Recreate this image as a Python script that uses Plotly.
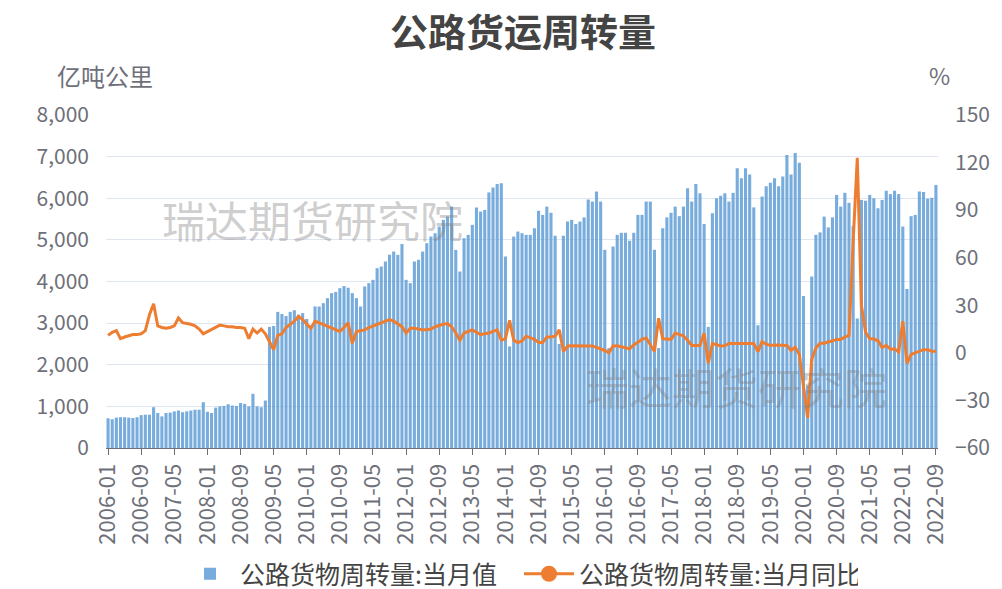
import plotly.graph_objects as go

# ---------------- data ----------------
months = [f"{y}-{m:02d}" for y in range(2006, 2023) for m in range(1, 13)][:201]

tick_labels = ["2006-01", "2006-09", "2007-05", "2008-01", "2008-09", "2009-05",
               "2010-01", "2010-09", "2011-05", "2012-01", "2012-09", "2013-05",
               "2014-01", "2014-09", "2015-05", "2016-01", "2016-09", "2017-05",
               "2018-01", "2018-09", "2019-05", "2020-01", "2020-09", "2021-05",
               "2022-01", "2022-09"]

# 公路货物周转量:当月值 (亿吨公里)
bar_2006 = [714, 690, 730, 740, 740, 730, 720, 740, 790, 800, 800, 980]
bar_2007 = [840, 760, 840, 850, 880, 900, 860, 880, 900, 920, 920, 1100]
bar_2008 = [870, 840, 970, 1000, 1010, 1050, 1020, 1010, 1080, 1060, 1000, 1300]
bar_2009 = [1000, 980, 1140, 2910, 2930, 3270, 3220, 3170, 3270, 3310, 3200, 3240]
bar_2010 = [3100, 2950, 3400, 3400, 3480, 3600, 3720, 3750, 3840, 3890, 3850, 3720]
bar_2011 = [3600, 3400, 3880, 3960, 4040, 4320, 4360, 4480, 4640, 4720, 4640, 4900]
bar_2012 = [4040, 3960, 4480, 4520, 4720, 4920, 5080, 5160, 5320, 5480, 5560, 5800]
bar_2013 = [4760, 4240, 5040, 5120, 5360, 5780, 5680, 5720, 6140, 6260, 6340, 6360]
bar_2014 = [4600, 2440, 5080, 5200, 5160, 5120, 5120, 5280, 5700, 5600, 5800, 5650]
bar_2015 = [5100, 2500, 5100, 5440, 5480, 5380, 5440, 5540, 5970, 5920, 6160, 5920]
bar_2016 = [4760, 2400, 4840, 5120, 5170, 5170, 4980, 5170, 5600, 5600, 5920, 5920]
bar_2017 = [4760, 2400, 5280, 5540, 5650, 5800, 5570, 5800, 6240, 5920, 6340, 6120]
bar_2018 = [5380, 2910, 5640, 6000, 6060, 6120, 5920, 6130, 6720, 6480, 6720, 6570]
bar_2019 = [5780, 2950, 6040, 6290, 6370, 6480, 6290, 6520, 7040, 6570, 7090, 6850]
bar_2020 = [3650, 1500, 4120, 5120, 5180, 5560, 5300, 5540, 6080, 5800, 6130, 5890]
bar_2021 = [5330, 3110, 5960, 5940, 6080, 6000, 5760, 5960, 6180, 6100, 6180, 6100]
bar_2022 = [5320, 3820, 5570, 5600, 6160, 6150, 5990, 6010, 6320]

# 公路货物周转量:当月同比 (%)
yoy_2006 = [11, 13, 14, 9, 10, 11, 11.5, 11.5, 12, 14, 24, 31]
yoy_2007 = [17, 16, 15.5, 16, 17, 22, 19, 18.5, 18, 17, 15, 12]
yoy_2008 = [13.5, 15, 16.5, 17.5, 17, 16.5, 16.5, 16, 16, 15.5, 9, 15]
yoy_2009 = [12.5, 15, 12, 7, 2, 11, 12, 16, 18, 20, 23, 21]
yoy_2010 = [18, 15.5, 20, 19, 18, 16.5, 15.5, 14.5, 13.5, 16, 19, 6]
yoy_2011 = [13.5, 14, 14.5, 16, 17, 18, 19, 20.5, 21, 20, 18.5, 16.5]
yoy_2012 = [12.5, 15.5, 15.5, 15, 14.5, 14.5, 15, 16.5, 17.5, 18, 18.5, 16.5]
yoy_2013 = [12.5, 8, 12.5, 13.5, 14.5, 13, 11.5, 12, 12.5, 13.5, 14.5, 8]
yoy_2014 = [9, 20.5, 8, 6.5, 7.5, 10.5, 9.5, 8.5, 6.5, 6.5, 10, 10]
yoy_2015 = [10.5, 14.5, 0.8, 4.3, 4.5, 4.5, 4.7, 4.5, 4.5, 4.3, 3.5, 2.6]
yoy_2016 = [1.5, 0.1, 4.3, 4.5, 4, 3.5, 2.6, 5, 7, 8.5, 9.4, 5]
yoy_2017 = [0.8, 21.8, 8.8, 8.8, 8.5, 12.4, 11.5, 10.7, 8, 4.7, 4.7, 4.7]
yoy_2018 = [12.4, -6.6, 5.9, 5, 4.3, 4.5, 5.9, 5.9, 5.9, 5.9, 6.3, 6]
yoy_2019 = [5.9, 0.8, 7, 5.5, 4.7, 5, 5, 4.7, 4.7, 1.5, 3.5, -1]
yoy_2020 = [-22, -41, -4, 3, 6, 6, 7, 7.5, 8.5, 8.5, 10, 11]
yoy_2021 = [70, 123, 30, 13, 9, 8.7, 7.6, 3.4, 4.8, 2.3, 2.5, 0.5]
yoy_2022 = [20, -6.6, -1, 0, 1.5, 2, 2, 1, 1]

bar_values = (bar_2006 + bar_2007 + bar_2008 + bar_2009 + bar_2010 + bar_2011 +
              bar_2012 + bar_2013 + bar_2014 + bar_2015 + bar_2016 + bar_2017 +
              bar_2018 + bar_2019 + bar_2020 + bar_2021 + bar_2022)
yoy_values = (yoy_2006 + yoy_2007 + yoy_2008 + yoy_2009 + yoy_2010 + yoy_2011 +
              yoy_2012 + yoy_2013 + yoy_2014 + yoy_2015 + yoy_2016 + yoy_2017 +
              yoy_2018 + yoy_2019 + yoy_2020 + yoy_2021 + yoy_2022)

BLUE = "#5B9BD5"
ORANGE = "#ED7D31"
AXIS_GRAY = "#6E7079"
FONT = "Noto Sans CJK SC"

# figure pixel geometry (body margin removed by post_script below)
W, H = 1002, 596
PL, PR, PT, PB = 106, 938, 115, 448          # plot area edges in pixels
PW, PH = PR - PL, PB - PT

fig = go.Figure()
fig.add_trace(go.Bar(
    x=months, y=bar_values, name="公路货物周转量:当月值",
    marker=dict(color=BLUE, line=dict(width=0)), opacity=0.82,
))
fig.add_trace(go.Scatter(
    x=months, y=yoy_values, name="公路货物周转量:当月同比", yaxis="y2",
    mode="lines", line=dict(color=ORANGE, width=3), showlegend=False,
))
# legend entry for the line series (line with circle symbol)
fig.add_trace(go.Scatter(
    x=[None], y=[None], name="公路货物周转量:当月同比", yaxis="y2",
    mode="lines+markers", line=dict(color=ORANGE, width=3),
    marker=dict(color=ORANGE, size=16),
))


def px_x(x):
    return (x - PL) / PW


def px_y(y):
    return (PB - y) / PH


fig.update_layout(
    width=W, height=H,
    margin=dict(l=PL, r=W - PR, t=PT, b=H - PB, autoexpand=False),
    plot_bgcolor="white", paper_bgcolor="white",
    font=dict(family=FONT, color=AXIS_GRAY, size=21),
    bargap=0.25,
    title=dict(text="<b>公路货运周转量</b>", x=523 / W, xanchor="center",
               y=1 - 33 / H, yanchor="middle",
               font=dict(size=38, color="#444444", family=FONT)),
    xaxis=dict(type="category", categoryorder="array", categoryarray=months,
               tickmode="array", tickvals=tick_labels, ticktext=tick_labels,
               tickangle=-90, ticks="outside", ticklen=6, tickcolor=AXIS_GRAY,
               showline=True, linecolor=AXIS_GRAY, linewidth=1,
               showgrid=False, tickfont=dict(size=22, color=AXIS_GRAY),
               range=[-0.5, 200.5], automargin=False),
    yaxis=dict(range=[0, 8000], dtick=1000, tickformat=",",
               showgrid=True, gridcolor="#E0E6F1", gridwidth=1,
               zeroline=False, showline=False, ticks="",
               ticklabelstandoff=16, automargin=False,
               tickfont=dict(size=21, color=AXIS_GRAY)),
    yaxis2=dict(range=[-60, 150], dtick=30, overlaying="y", side="right",
                showgrid=False, zeroline=False, showline=False, ticks="",
                ticklabelstandoff=16, automargin=False,
                tickfont=dict(size=21, color=AXIS_GRAY)),
    legend=dict(orientation="h", xref="container", yref="container",
                x=180 / W, xanchor="left", y=1 - 551 / H, yanchor="top",
                font=dict(size=25, color="#444444", family=FONT),
                itemwidth=50, entrywidth=274, entrywidthmode="pixels",
                bgcolor="rgba(0,0,0,0)"),
    annotations=[
        dict(text="亿吨公里", xref="paper", yref="paper", x=px_x(105),
             y=px_y(75), xanchor="center", yanchor="middle", showarrow=False,
             font=dict(size=24, color=AXIS_GRAY, family=FONT)),
        dict(text="%", xref="paper", yref="paper", x=px_x(939),
             y=px_y(75), xanchor="center", yanchor="middle", showarrow=False,
             font=dict(size=23, color=AXIS_GRAY, family=FONT)),
        dict(text="瑞达期货研究院", xref="paper", yref="paper",
             x=px_x(312), y=px_y(219),
             xanchor="center", yanchor="middle", showarrow=False,
             font=dict(size=43, color="rgba(128,128,128,0.4)", family=FONT)),
        dict(text="瑞达期货研究院", xref="paper", yref="paper",
             x=px_x(736), y=px_y(386),
             xanchor="center", yanchor="middle", showarrow=False,
             font=dict(size=43, color="rgba(128,128,128,0.4)", family=FONT)),
    ],
)

fig.write_html(
    "out.html",
    config={"displayModeBar": False},
    post_script="document.body.style.margin='0';document.body.style.overflow='hidden';",
)
